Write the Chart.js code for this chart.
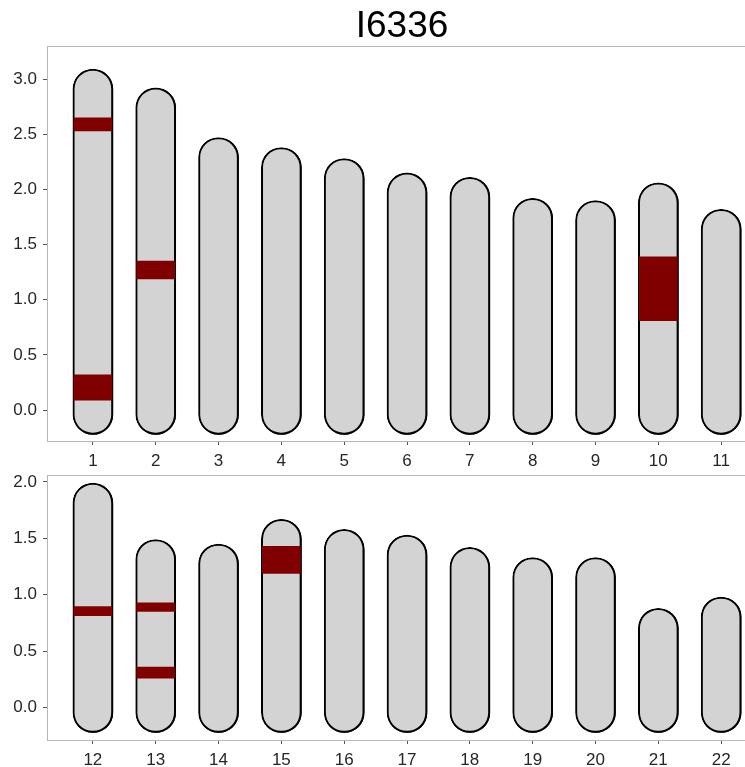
<!DOCTYPE html>
<html>
<head>
<meta charset="utf-8">
<script src="https://cdn.jsdelivr.net/npm/chart.js@4.4.1/dist/chart.umd.min.js"></script>
<style>
  html, body { margin: 0; padding: 0; background: #fff; overflow: hidden; }
  canvas { display: block; }
</style>
</head>
<body>
<canvas id="topChart" width="804" height="466"></canvas>
<canvas id="bottomChart" width="804" height="301"></canvas>
<script>
// Chromosome numbers and lengths (Morgans) per panel
const topChroms = [1, 2, 3, 4, 5, 6, 7, 8, 9, 10, 11];
const topLengths = [2.87, 2.70, 2.25, 2.16, 2.06, 1.93, 1.89, 1.70, 1.68, 1.84, 1.60];
const bottomChroms = [12, 13, 14, 15, 16, 17, 18, 19, 20, 21, 22];
const bottomLengths = [1.77, 1.27, 1.23, 1.45, 1.36, 1.31, 1.20, 1.11, 1.11, 0.66, 0.76];

// Highlighted segments: [chromosome, start, end]
const topBands = [[1, 2.53, 2.65], [1, 0.09, 0.32], [2, 1.19, 1.35], [10, 0.81, 1.39]];
const bottomBands = [[12, 0.815, 0.895], [13, 0.853, 0.928], [13, 0.26, 0.36], [15, 1.19, 1.43]];

// Tick labels
const topYTicks = [0, 0.5, 1, 1.5, 2, 2.5, 3];
const bottomYTicks = [0, 0.5, 1, 1.5, 2];

const sampleName = "I6336";
const capPad = 0.22; // rounded ends stick out past 0 and the length
const fontFamily = "'Liberation Sans', Arial, sans-serif";

// shadow under the chromosome bodies, light frame around plot, title
const shadowPlugin = {
  id: "chromShadow",
  beforeDatasetDraw(chart, args) {
    if (args.meta._dataset.isChrom) {
      const ctx = chart.ctx;
      ctx.save();
      ctx.shadowColor = "rgba(0,0,0,0.95)";
      ctx.shadowOffsetX = 2;
      ctx.shadowOffsetY = 2;
      ctx.shadowBlur = 1;
    }
  },
  afterDatasetDraw(chart, args) {
    if (args.meta._dataset.isChrom) chart.ctx.restore();
  },
  afterDraw(chart) {
    const { ctx, chartArea: a } = chart;
    ctx.save();
    ctx.strokeStyle = "#b8b8b8";
    ctx.lineWidth = 1;
    ctx.strokeRect(a.left + 0.5, a.top + 0.5, a.right - a.left, a.bottom - a.top);
    const title = chart.options.plugins.chromShadow.title;
    if (title) {
      ctx.fillStyle = "#000";
      ctx.font = "37px " + fontFamily;
      ctx.textAlign = "center";
      ctx.textBaseline = "alphabetic";
      ctx.fillText(title, chart.width / 2, 37);
    }
    ctx.restore();
  },
};

function makeChart(id, chroms, lengths, bands, yTicks, yMin, yMax, opts) {
  const datasets = [
    {
      isChrom: true,
      data: chroms.map((c, i) => ({ x: c, y: [-capPad, lengths[i] + capPad] })),
      backgroundColor: "#d3d3d3",
      borderColor: "#000",
      borderWidth: 2,
      borderRadius: 20,
      borderSkipped: false,
      barThickness: 40,
      grouped: false,
      order: 2,
    },
  ];
  bands.forEach((b) => {
    datasets.push({
      data: [{ x: b[0], y: [b[1], b[2]] }],
      backgroundColor: "#800000",
      borderWidth: 0,
      barThickness: 38,
      grouped: false,
      order: 1,
    });
  });

  const xMin = chroms[0] - 0.73;
  const xMax = chroms[chroms.length - 1] + 0.73;

  return new Chart(document.getElementById(id), {
    type: "bar",
    data: { datasets },
    options: {
      responsive: false,
      animation: false,
      layout: { padding: { top: opts.padTop, right: 37, left: 0, bottom: 0 } },
      plugins: {
        legend: { display: false },
        tooltip: { enabled: false },
        title: { display: false },
        chromShadow: { title: opts.title },
      },
      scales: {
        x: {
          type: "linear",
          offset: false,
          min: xMin,
          max: xMax,
          afterBuildTicks: (s) => { s.ticks = chroms.map((v) => ({ value: v })); },
          afterFit: (s) => { s.height = opts.xHeight; s.paddingLeft = 0; s.paddingRight = 0; },
          grid: { offset: false, drawOnChartArea: false, drawTicks: true, tickLength: 4, color: "#555" },
          border: { display: false },
          ticks: {
            color: "#262626",
            font: { family: fontFamily, size: 17 },
            padding: 6,
            callback: (v) => String(v),
          },
        },
        y: {
          min: yMin,
          max: yMax,
          afterBuildTicks: (s) => { s.ticks = yTicks.map((v) => ({ value: v })); },
          afterFit: (s) => { s.width = 47; s.paddingTop = 0; s.paddingBottom = 0; },
          grid: { drawOnChartArea: false, drawTicks: true, tickLength: 4, color: "#555" },
          border: { display: false },
          ticks: {
            color: "#262626",
            font: { family: fontFamily, size: 17 },
            padding: 6,
            callback: (v) => v.toFixed(1),
          },
        },
      },
    },
    plugins: [shadowPlugin],
  });
}

makeChart("topChart", topChroms, topLengths, topBands, topYTicks, -0.28, 3.30,
  { title: sampleName, padTop: 46, xHeight: 25 });
makeChart("bottomChart", bottomChroms, bottomLengths, bottomBands, bottomYTicks, -0.287, 2.062,
  { title: null, padTop: 9, xHeight: 27 });
</script>
</body>
</html>
